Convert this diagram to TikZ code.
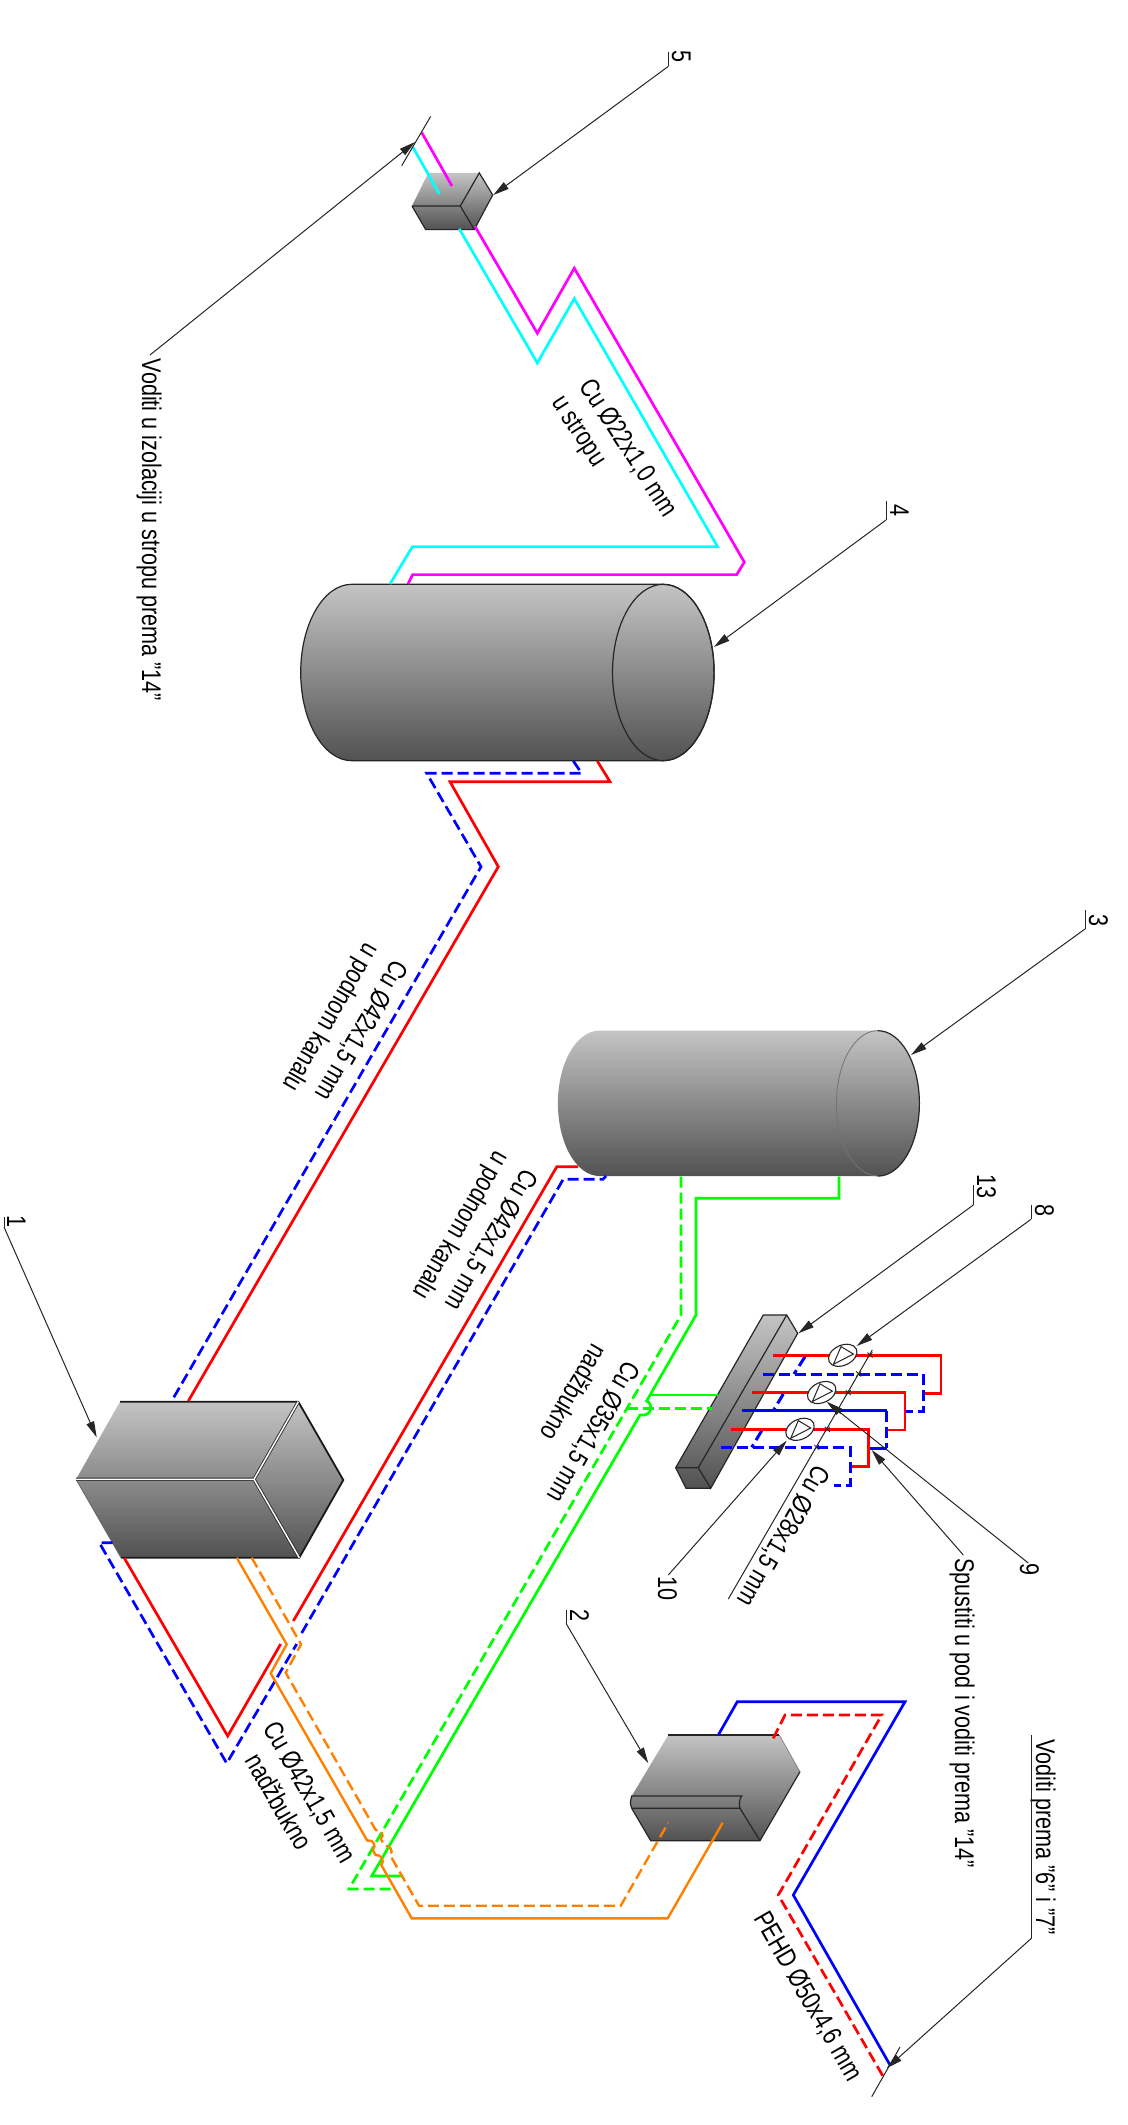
\documentclass[tikz,border=0pt]{standalone}
\usepackage{fontspec}
\setmainfont{Liberation Sans}
\usetikzlibrary{arrows.meta}
\definecolor{gTop}{HTML}{C4C4C4}
\definecolor{gBot}{HTML}{525252}
\definecolor{pipeOrange}{HTML}{FF8000}
\definecolor{pipeGreen}{HTML}{00FF00}
\definecolor{pipeCyan}{HTML}{00FFFF}
\definecolor{pipeMag}{HTML}{FF00FF}
\tikzset{
 pipe/.style={line width=2.7pt,line join=miter,miter limit=10},
 dsh/.style={pipe,dash pattern=on 11pt off 5pt},
 body/.style={top color=gTop,bottom color=gBot,draw=none},
 edge/.style={line width=1.2pt,draw=black!85},
 leader/.style={line width=1pt,draw=black!85,-{Triangle[length=16pt,width=8pt]}},
 thin line/.style={line width=1pt,draw=black!85},
 lbl/.style={font=\fontsize{27}{30}\selectfont,inner sep=0pt,anchor=base,rotate=-90,xscale=.8,transform shape},
 tiltd/.style={font=\fontsize{27}{30}\selectfont,inner sep=0pt,text height=20pt,text depth=6pt,anchor=center,rotate=#1,xscale=.8,transform shape},
 pumpring/.style={line width=1.1pt,draw=black!85,fill=white},
}
\begin{document}
\begin{tikzpicture}[x=1pt,y=-1pt]
\useasboundingbox (0,0) rectangle (1127,2125);
\fill[white] (0,0) rectangle (1127,2125);

% ---------- equipment ----------
% box 5
\shade[body] (428.3,172.9)--(479.3,172.9)--(492.7,195)--(474.3,229.6)--(425.7,229.6)--(412,206)--cycle;
\draw[edge] (412,206)--(460.3,206)--(479.3,172.9)--(492.7,195)--(474.3,229.6)--(425.7,229.6)--(412,206);
\draw[edge] (460.3,206)--(474.3,229.6);
% tank 4
\shade[body] (351.7,584.3)--(663.3,584.3) arc[start angle=90,end angle=-90,x radius=50.8pt,y radius=88.2pt]--(351.7,760.7) arc[start angle=270,end angle=90,x radius=51pt,y radius=88.2pt]--cycle;
\draw[edge] (351.7,584.3)--(663.3,584.3) arc[start angle=90,end angle=-90,x radius=50.8pt,y radius=88.2pt]--(351.7,760.7) arc[start angle=270,end angle=90,x radius=51pt,y radius=88.2pt]--cycle;
\draw[edge] (663.3,672.5) ellipse [x radius=50.8pt,y radius=88.2pt];
% tank 3
\shade[body] (599.4,1030.7)--(877.9,1030.7) arc[start angle=90,end angle=-90,x radius=41.5pt,y radius=72.7pt]--(599.4,1176) arc[start angle=270,end angle=90,x radius=41.5pt,y radius=72.7pt]--cycle;
\draw[line width=1.2pt,draw=black!85] (877.9,1030.7) arc[start angle=90,end angle=-90,x radius=41.5pt,y radius=72.7pt];
\draw[line width=.8pt,draw=black!55] (877.9,1176) arc[start angle=270,end angle=90,x radius=41.5pt,y radius=72.7pt];
% box 1
\shade[body] (120,1401.7)--(298.3,1401.7)--(343.3,1480)--(299.3,1557.7)--(121,1557.7)--(76,1479.3)--cycle;
\draw[line width=1.8pt,draw=black!90] (120,1401.7)--(298.3,1401.7)--(343.3,1480)--(299.3,1557.7)--(121,1557.7);
\draw[line width=.8pt,draw=black!60] (121,1557.7)--(76,1479.3);
\draw[line width=3.2pt,draw=black!85] (76,1479.3)--(254,1479.3) (298.3,1401.7)--(254,1479.3)--(299.3,1557.7);
\draw[line width=1.5pt,draw=white] (76,1479.3)--(254,1479.3) (298.3,1401.7)--(254,1479.3)--(299.3,1557.7);
% box 2
\shade[body] (668.3,1735)--(779.3,1735)--(800,1771.7)--(760,1840.7)--(650.7,1840.7)--(631.7,1808.3)--(631.7,1796)--cycle;
\draw[edge] (668.3,1735)--(779.3,1735);
\draw[line width=.7pt,draw=black!50] (779.3,1735)--(800,1771.7);
\draw[edge] (800,1771.7)--(760,1840.7)--(650.7,1840.7)--(631.7,1808.3) .. controls (630,1803) .. (631.7,1796)--(741.7,1796) .. controls (739,1800) and (739,1804) .. (740,1808.3)--(631.7,1808.3);
\draw[edge] (740,1808.3)--(760,1840.7);
% collector 13
\shade[body] (763.3,1315)--(786.7,1315)--(797.7,1333.3)--(710.7,1488.3)--(686,1488.3)--(675.7,1467.7)--cycle;
\draw[edge] (675.7,1467.7)--(698.3,1467.7)--(786.7,1315);
\draw[edge] (698.3,1467.7)--(710.7,1488.3)--(797.7,1333.3)--(786.7,1315)--(763.3,1315)--(675.7,1467.7)--(686,1488.3)--(710.7,1488.3);

% ---------- pipes ----------
\draw[pipe,pipeMag] (452,186)--(421.7,132.5);
\draw[pipe,pipeCyan] (439.3,193.9)--(412.7,146.8);
\draw[pipe,pipeMag] (475,226.4)--(537.3,333.2)--(574.3,268.2)--(744.3,562.1)--(736.7,574.6)--(412.7,574.6)--(408,584);
\draw[pipe,pipeCyan] (459.3,228.9)--(537.3,362.9)--(574.3,298.6)--(717.7,546.8)--(412.3,546.8)--(390,584);

\draw[pipe,red] (597.3,761)--(610,781.7)--(450,781.7)--(498.3,866.7)--(188.3,1401);
\draw[dsh,blue] (573.3,761)--(581.7,773.3)--(426.7,773.3)--(481,866.7)--(171.7,1401);

\draw[pipe,red] (124.3,1558)--(227.7,1736)--(280.7,1644);
\draw[pipe,red] (293.3,1621)--(556.8,1166.7)--(578.2,1166.7);
\draw[dsh,blue] (112.7,1542.7)--(99.3,1542.7)--(226.7,1763.3)--(296.7,1644);
\draw[dsh,blue] (301.7,1633)--(563.2,1179.3)--(603,1179.3)--(606,1176);

\draw[pipe,pipeGreen] (838.9,1176.7)--(838.9,1198.3)--(696,1198.3)--(696,1315)--(646.6,1401) .. controls (653,1403) and (653,1417) .. (640,1415)--(371.7,1876)--(403.3,1876);
\draw[pipe,pipeGreen] (650,1395)--(718.3,1395);
\draw[dsh,pipeGreen] (681,1176.7)--(681,1315)--(349,1889)--(395,1889);
\draw[dsh,pipeGreen] (626.7,1408.3)--(711.7,1408.3);

\draw[pipe,pipeOrange,line width=2.4pt] (236.7,1557.7)--(286.7,1644.3)--(270.7,1673.3)--(367.2,1840.5) .. controls (373,1839) and (377,1846) .. (372.7,1850)--(375.6,1855) .. controls (381,1854) and (385,1861) .. (381.3,1865)--(411.7,1918.3)--(667.7,1918.3)--(722.7,1822.7);
\draw[dsh,pipeOrange,line width=2.4pt] (251.7,1557.7)--(301,1644.3)--(285.7,1672.7)--(375.7,1830) .. controls (381,1829) and (385,1835) .. (380.8,1839)--(384.8,1846) .. controls (390,1845) and (394,1851) .. (390,1855)--(419,1905.7)--(620.7,1905.7)--(668.3,1822.7);

\draw[pipe,blue] (718.3,1735)--(737.3,1701.7)--(905,1701.7)--(793.3,1895)--(890,2065);
\draw[dsh,red] (773.3,1738.3)--(785,1715)--(881.7,1715)--(778.3,1895)--(883.3,2076.7);

% manifold circuits
\draw[pipe,red,line width=3.2pt] (773.3,1355.7)--(831.7,1355.7);
\draw[pipe,red] (855,1355.7)--(941,1355.7)--(941,1393.3)--(924,1393.3);
\draw[dsh,blue,line width=3pt] (763.3,1374)--(923.3,1374)--(923.3,1411.7)--(906,1411.7);
\draw[dsh,blue,line width=3pt] (805,1356.7)--(794,1374);
\draw[pipe,red,line width=3.2pt] (752.3,1392.7)--(810,1392.7);
\draw[pipe,red] (833.3,1392.7)--(905,1392.7)--(905,1430)--(888.3,1430);
\draw[pipe,blue] (742.3,1410.7)--(886.7,1410.7);
\draw[dsh,blue,line width=3pt] (886.7,1410.7)--(886.7,1448.3);
\draw[pipe,blue] (886.7,1448.3)--(870,1448.3);
\draw[dsh,blue,line width=3pt] (783.3,1394)--(773.3,1410.7);
\draw[pipe,red,line width=3.2pt] (731,1429.3)--(788.3,1429.3);
\draw[pipe,red] (811.7,1429.3)--(868.3,1429.3)--(868.3,1466.7)--(851.7,1466.7);
\draw[dsh,blue,line width=3pt] (721,1447.3)--(850,1447.3)--(850,1485)--(834.3,1485);
\draw[dsh,blue,line width=3pt] (761.7,1430.7)--(751.7,1447.3);

% pumps
\foreach \cx/\cy in {842.7/1355.3,821.7/1392.5,800/1429.3}{
 \draw[pumpring] (\cx,\cy) ellipse [x radius=15pt,y radius=10pt,rotate=25];
 \draw[line width=1pt,draw=black!85] (\cx+10.7,\cy-1.3)--(\cx-1.7,\cy-8.7)--(\cx-9.3,\cy+9)--cycle;
}

% ---------- marks ----------
\coordinate (wallTop) at (430.7,116.4);
\coordinate (wallBot) at (401.7,165.7);
\draw[thin line] (wallTop)--(wallBot);
\coordinate (floorTop) at (900,2047);
\coordinate (floorBot) at (871.7,2096.7);
\draw[thin line] (floorTop)--(floorBot);
\coordinate (lineTop) at (872.3,1350);
\coordinate (lineBot) at (728.3,1599);
\draw[thin line] (lineTop)--(lineBot);
\foreach \cx/\cy in {870/1355,858.7/1374,848.3/1392.7,838/1411,827.3/1429.3,816.7/1447.3}{
 \draw[line width=.8pt,draw=black!85] (\cx-2.5,\cy-2.5)--(\cx+2.5,\cy+2.5) (\cx-2.5,\cy+2.5)--(\cx+2.5,\cy-2.5);
}

% ---------- labels ----------
\node[lbl] (n5) at (672,57) {5};
\node[lbl] (n4) at (890,511) {4};
\node[lbl] (n3) at (1089,920) {3};
\node[lbl] (n13) at (977,1186) {13};
\node[lbl] (n8) at (1035,1210) {8};
\node[lbl] (n9) at (1020,1569) {9};
\node[lbl] (n10) at (658,1588) {10};
\node[lbl] (n2) at (570,1615) {2};
\node[lbl] (n1) at (7,1221) {1};
\node[lbl] (tVodU) at (142,530) {Voditi u izolaciji u stropu prema "14"};
\node[lbl] (tVodP) at (1036,1837) {Voditi prema "6" i "7"};
\node[lbl] (tSpu) at (955,1713) {Spustiti u pod i voditi prema "14"};
\node[tiltd=-57] (t22a) at (627.5,448.6) {Cu Ø22x1,0 mm};
\node[tiltd=-57] (t22b) at (578.3,431.6) {u stropu};
\node[tiltd=-120] (t42a1) at (360,1030) {Cu Ø42x1,5 mm};
\node[tiltd=-120] (t42a2) at (330,1017) {u podnom kanalu};
\node[tiltd=-120] (t42b1) at (490,1239) {Cu Ø42x1,5 mm};
\node[tiltd=-120] (t42b2) at (460,1225) {u podnom kanalu};
\node[tiltd=-120] (t351) at (592,1431) {Cu Ø35x1,5 mm};
\node[tiltd=-120] (t352) at (571.7,1391.6) {nadžbukno};
\node[tiltd=-60] (t42c1) at (308,1793) {Cu Ø42x1,5 mm};
\node[tiltd=-60] (t42c2) at (277,1803) {nadžbukno};
\node[tiltd=-60] (tPE) at (807,1997) {PEHD Ø50x4,6 mm};
\node[tiltd=-120] (t28) at (782,1535) {Cu Ø28x1,5 mm};

% ---------- leaders ----------
\foreach \na/\xa/\ya/\xb/\yb/\xc/\yc in {
 5/668.3/52/668.3/66.4/493.3/195,
 4/886/501/886/520/714/647,
 3/1085/910/1085/929/911/1055,
 13/973.3/1185/973.3/1205/798.3/1333.3,
 8/1031/1205/1031/1219.3/856.7/1346,
 2/566/1610/566/1623.3/648.3/1763.3,
 1/4/1217/4/1227/96.7/1437.3}{
 \coordinate (f\na a) at (\xa,\ya);
 \coordinate (f\na b) at (\xb,\yb);
 \coordinate (f\na c) at (\xc,\yc);
 \draw[thin line] (f\na a)--(f\na b);
 \draw[leader] (f\na b)--(f\na c);
}
\coordinate (l9) at (1028.3,1563); \coordinate (a9) at (826.7,1401.7);
\draw[leader] (l9)--(a9);
\coordinate (l10) at (668.3,1575); \coordinate (a10) at (786.7,1440.7);
\draw[leader] (l10)--(a10);
\coordinate (lS) at (963.3,1555); \coordinate (aS) at (871.7,1450);
\draw[leader] (lS)--(aS);
\coordinate (lU) at (150,355); \coordinate (aU) at (415,142);
\draw[leader] (lU)--(aU);
\coordinate (lPa) at (1031.7,1735); \coordinate (lPb) at (1031.7,1938); \coordinate (aP) at (886.7,2068.3);
\draw[thin line] (lPa)--(lPb);
\draw[leader] (lPb)--(aP);
\end{tikzpicture}
\end{document}
